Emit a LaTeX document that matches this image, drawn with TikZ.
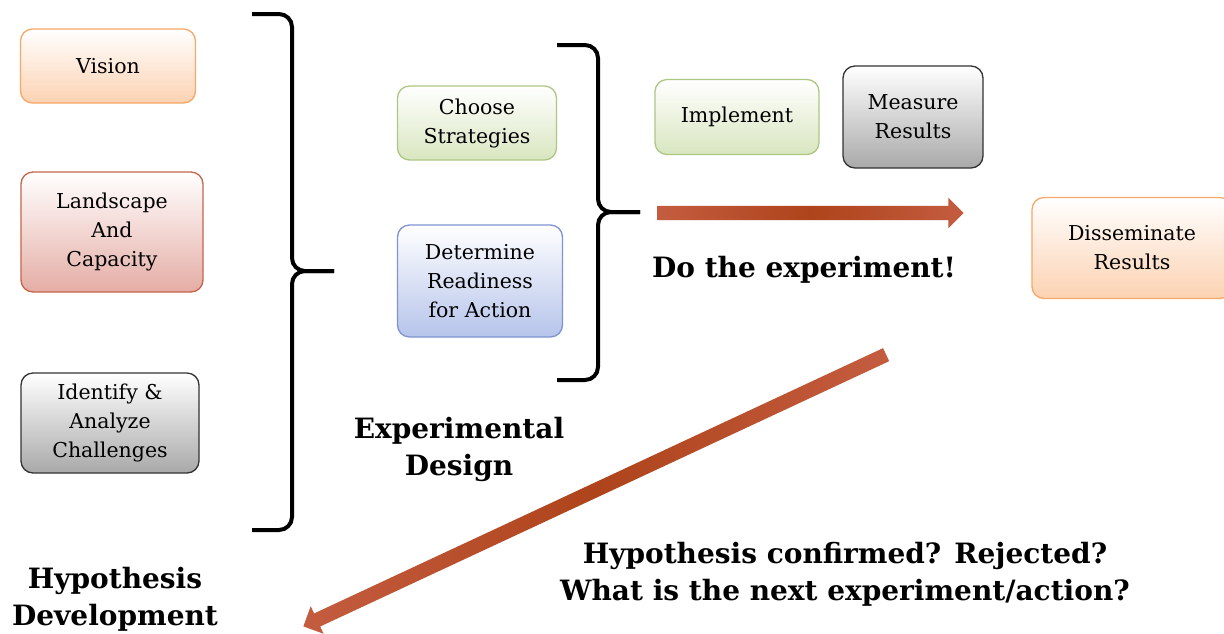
\documentclass[tikz,border=0pt]{standalone}
\usepackage{fontspec}
\setmainfont{DejaVu Serif}
\usetikzlibrary{shapes.arrows}
\definecolor{OrangeLine}{HTML}{F6A868}
\definecolor{OrangeFill}{HTML}{FCD2B2}
\definecolor{RedLine}{HTML}{C5654C}
\definecolor{RedFill}{HTML}{E5ADA5}
\definecolor{GrayLine}{HTML}{333333}
\definecolor{GrayFill}{HTML}{A9A9A9}
\definecolor{GreenLine}{HTML}{AEC785}
\definecolor{GreenFill}{HTML}{D9E6C0}
\definecolor{BlueLine}{HTML}{7F94D0}
\definecolor{BlueFill}{HTML}{B6C4EB}
\definecolor{ArrowLight}{HTML}{C45C40}
\definecolor{ArrowDark}{HTML}{AE441B}
\tikzset{
  blk/.style       = {rounded corners=12pt, align=center, line width=1.3pt,
                      font=\fontsize{20.5}{29}\selectfont, top color=white,
                      inner sep=2pt},
  blkorange/.style = {blk, draw=OrangeLine, bottom color=OrangeFill},
  blkred/.style    = {blk, draw=RedLine, bottom color=RedFill},
  blkgray/.style   = {blk, draw=GrayLine, bottom color=GrayFill},
  blkgreen/.style  = {blk, draw=GreenLine, bottom color=GreenFill},
  blkblue/.style   = {blk, draw=BlueLine, bottom color=BlueFill},
  titulo/.style    = {font=\fontsize{28}{37}\selectfont\bfseries, align=center},
  llave/.style     = {line width=4pt, rounded corners=13pt},
  flecha/.style    = {single arrow, shade, left color=ArrowLight,
                      right color=ArrowLight, middle color=ArrowDark,
                      inner sep=7pt, minimum width=30pt,
                      single arrow head extend=8pt, single arrow head indent=0pt},
}
\begin{document}
\begin{tikzpicture}[x=1pt, y=-1pt]
  \useasboundingbox (0,0) rectangle (1224,633);
  \fill[white] (0,0) rectangle (1224,633);
  \clip (0,0) rectangle (1224,633);
  % hypothesis development
  \node[blkorange, minimum width=175pt, minimum height=74pt] (vision) at (108,66) {Vision};
  \node[blkred, minimum width=182pt, minimum height=120pt] (landscape) at (112,232) {Landscape\\And\\Capacity};
  \node[blkgray, minimum width=178pt, minimum height=100pt] (identify) at (110,423) {Identify \&\\Analyze\\Challenges};
  \draw[llave] (252,14) -- (292,14) -- (292,271) -- (334,271);
  \draw[llave] (334,271) -- (292,271) -- (292,530) -- (252,530);
  \node[titulo] (hipotesis) at (115,599) {Hypothesis\\Development};
  % experimental design
  \node[blkgreen, minimum width=159pt, minimum height=74pt] (choose) at (477,123) {Choose\\Strategies};
  \node[blkblue, minimum width=165pt, minimum height=112pt] (readiness) at (480,281) {Determine\\Readiness\\for Action};
  \draw[llave] (557,45) -- (598,45) -- (598,212) -- (640,212);
  \draw[llave] (640,212) -- (598,212) -- (598,380) -- (557,380);
  \node[titulo] (diseno) at (459,449) {Experimental\\Design};
  % experiment
  \node[blkgreen, minimum width=164pt, minimum height=75pt] (implement) at (737,117) {Implement};
  \node[blkgray, minimum width=140pt, minimum height=102pt] (measure) at (913,117) {Measure\\Results};
  \node[flecha, minimum height=306pt] (hacer) at (807,213) {};
  \node[titulo] (experimento) at (804,270) {Do the experiment!};
  \node[blkorange, minimum width=200pt, minimum height=101pt] (disseminate) at (1132,248) {Disseminate\\Results};
  % back to hypothesis
  \node[flecha, minimum height=643pt, rotate=205] (volver) at (598,489) {};
  \node[titulo] (pregunta) at (845,574) {Hypothesis confirmed? Rejected?\\What is the next experiment/action?};
\end{tikzpicture}
\end{document}
